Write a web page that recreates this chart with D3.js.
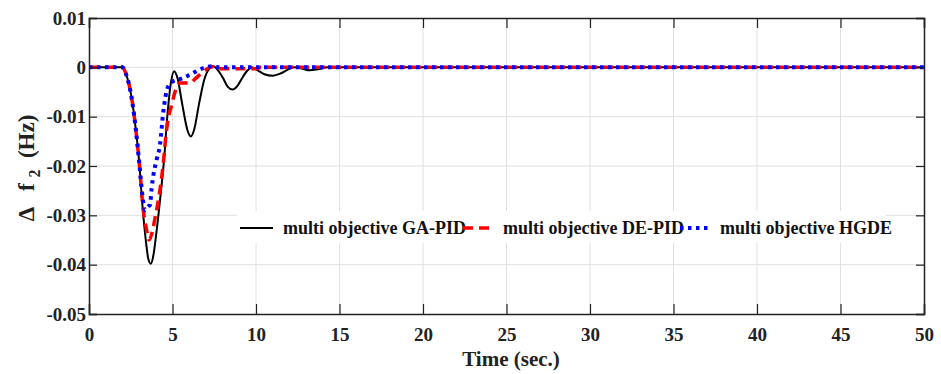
<!DOCTYPE html>
<html>
<head>
<meta charset="utf-8">
<script src="https://cdn.jsdelivr.net/npm/d3@7"></script>
<style>
  body { margin: 0; background: #fff; }
  svg { display: block; }
</style>
</head>
<body>
<svg id="chart" width="941" height="374"></svg>
<script>
// ---------- data ----------
const seriesNames = ["multi objective GA-PID", "multi objective DE-PID", "multi objective HGDE"];

const gaTime  = [0, 1, 2.0, 2.2, 2.4, 2.6, 2.8, 3.0, 3.2, 3.4, 3.55, 3.7, 3.85, 4.0, 4.25, 4.5, 4.7, 4.9, 5.1, 5.3, 5.6, 5.9, 6.1, 6.3, 6.6, 6.9, 7.2, 7.45, 7.7, 8.0, 8.3, 8.6, 8.9, 9.2, 9.5, 9.75, 10.1, 10.5, 11.0, 11.5, 12.0, 12.3, 12.8, 13.2, 13.7, 14.3, 15, 20, 30, 40, 50];
const gaValues = [0, 0, 0, -0.0012, -0.0035, -0.0072, -0.0125, -0.019, -0.028, -0.035, -0.0388, -0.0398, -0.0382, -0.0345, -0.027, -0.0185, -0.0095, -0.0032, -0.0008, -0.0022, -0.0078, -0.0128, -0.014, -0.0126, -0.0072, -0.0025, -0.0003, 0.0002, -0.0005, -0.002, -0.0039, -0.0045, -0.0037, -0.002, -0.0006, 0, -0.0006, -0.0014, -0.0017, -0.0012, -0.0003, 0, -0.0003, -0.0006, -0.0004, 0, 0, 0, 0, 0, 0];

const deTime  = [0, 1, 2.0, 2.2, 2.4, 2.6, 2.8, 3.0, 3.25, 3.45, 3.6, 3.8, 3.95, 4.15, 4.45, 4.6, 4.8, 4.95, 5.2, 5.45, 6.05, 6.4, 6.8, 7.4, 7.6, 10.0, 10.3, 20, 30, 40, 50];
const deValues = [0, 0, 0, -0.0012, -0.0035, -0.0072, -0.0125, -0.019, -0.0289, -0.033, -0.035, -0.0332, -0.0306, -0.027, -0.0194, -0.014, -0.0095, -0.0076, -0.0045, -0.0032, -0.0032, -0.0022, -0.001, 0.0001, -0.0003, -0.0003, 0, 0, 0, 0, 0];

const hgTime  = [0, 1, 2.0, 2.2, 2.4, 2.6, 2.8, 3.0, 3.2, 3.35, 3.55, 3.65, 3.75, 3.85, 4.05, 4.25, 4.45, 4.7, 5.0, 5.6, 6.2, 6.8, 7.4, 7.8, 20, 30, 40, 50];
const hgValues = [0, 0, 0, -0.0012, -0.0035, -0.0072, -0.0125, -0.019, -0.026, -0.029, -0.0282, -0.0279, -0.0245, -0.022, -0.0187, -0.0157, -0.009, -0.0042, -0.0029, -0.0022, -0.0012, -0.0002, 0.0002, 0, 0, 0, 0, 0];

const xTicks = [0, 5, 10, 15, 20, 25, 30, 35, 40, 45, 50];
const yTicks = [0.01, 0, -0.01, -0.02, -0.03, -0.04, -0.05];
const yTickLabels = ["0.01", "0", "-0.01", "-0.02", "-0.03", "-0.04", "-0.05"];

// ---------- layout ----------
const FONT = "Liberation Serif";
const svg = d3.select("#chart");
const L = 89, R = 924, T = 18, B = 314;
const x = d3.scaleLinear().domain([0, 50]).range([L, R]);
const y = d3.scaleLinear().domain([-0.05, 0.01]).range([B, T]);

// grid
const g = svg.append("g");
g.selectAll(".vg").data(xTicks.slice(1, -1)).join("line")
  .attr("x1", d => x(d)).attr("x2", d => x(d)).attr("y1", T).attr("y2", B)
  .attr("stroke", "#e0e0e0").attr("stroke-width", 1);
g.selectAll(".hg").data(yTicks.slice(1, -1)).join("line")
  .attr("x1", L).attr("x2", R).attr("y1", d => y(d)).attr("y2", d => y(d))
  .attr("stroke", "#e0e0e0").attr("stroke-width", 1);

// lines
const line = d3.line().x(d => x(d[0])).y(d => y(d[1])).curve(d3.curveMonotoneX);
const ga = gaTime.map((t, i) => [t, gaValues[i]]);
const de = deTime.map((t, i) => [t, deValues[i]]);
const hg = hgTime.map((t, i) => [t, hgValues[i]]);

svg.append("clipPath").attr("id", "clip").append("rect")
  .attr("x", L).attr("y", T).attr("width", R - L).attr("height", B - T);
const lines = svg.append("g").attr("clip-path", "url(#clip)");
lines.append("path").datum(ga).attr("d", line).attr("fill", "none")
  .attr("stroke", "#000").attr("stroke-width", 2);
lines.append("path").datum(de).attr("d", line).attr("fill", "none")
  .attr("stroke", "#ff0000").attr("stroke-width", 3.5).attr("stroke-dasharray", "10,6");
lines.append("path").datum(hg).attr("d", line).attr("fill", "none")
  .attr("stroke", "#0000ff").attr("stroke-width", 4).attr("stroke-dasharray", "3.5,4.5");

// axes
const axB = d3.axisBottom(x).tickValues(xTicks).tickSize(-10).tickPadding(14).tickFormat(d3.format("d"));
const axT = d3.axisTop(x).tickValues(xTicks).tickSize(-10).tickFormat("");
const axL = d3.axisLeft(y).tickValues(yTicks).tickSize(-8).tickPadding(3).tickFormat((d, i) => yTickLabels[i]);
const axR = d3.axisRight(y).tickValues(yTicks).tickSize(-8).tickFormat("");

function style(sel) {
  sel.attr("font-family", FONT);
  sel.select(".domain").attr("stroke", "#222").attr("stroke-width", 1.5);
  sel.selectAll(".tick line").attr("stroke", "#222").attr("stroke-width", 1.2);
  sel.selectAll(".tick text").style("font-size", "19px").style("font-family", FONT)
    .style("font-weight", "bold").attr("fill", "#222");
}
svg.append("g").attr("transform", `translate(0,${B})`).call(axB).call(style);
svg.append("g").attr("transform", `translate(0,${T})`).call(axT).call(style);
svg.append("g").attr("transform", `translate(${L},0)`).call(axL).call(style);
svg.append("g").attr("transform", `translate(${R},0)`).call(axR).call(style);

// axis labels
svg.append("text").attr("x", 511).attr("y", 366).attr("text-anchor", "middle")
  .style("font-family", FONT).style("font-weight", "bold").style("font-size", "21px").attr("fill", "#222")
  .text("Time (sec.)");
const yl = svg.append("text").attr("transform", `translate(34,${168}) rotate(-90)`)
  .attr("text-anchor", "middle").style("font-family", FONT).style("font-weight", "bold")
  .style("font-size", "23px").attr("fill", "#222").attr("xml:space", "preserve");
yl.append("tspan").text("Δ   f ");
yl.append("tspan").attr("dy", 6).style("font-size", "16px").text("2");
yl.append("tspan").attr("dy", -6).text("  (Hz)");

// legend
const leg = svg.append("g");
leg.append("rect").attr("x", 237).attr("y", 211).attr("width", 649).attr("height", 32).attr("fill", "#fff");
const legItems = [
  { x0: 240, x1: 273, tx: 283, color: "#000", w: 2, dash: null },
  { x0: 463, x1: 495, tx: 503, color: "#ff0000", w: 3.5, dash: "10,6" },
  { x0: 680, x1: 712, tx: 720, color: "#0000ff", w: 4, dash: "3.5,4.5" }
];
legItems.forEach((it, i) => {
  leg.append("line").attr("x1", it.x0).attr("x2", it.x1).attr("y1", 228).attr("y2", 228)
    .attr("stroke", it.color).attr("stroke-width", it.w).attr("stroke-dasharray", it.dash);
  leg.append("text").attr("x", it.tx).attr("y", 234)
    .style("font-family", FONT).style("font-weight", "bold").style("font-size", "18px").attr("fill", "#111")
    .text(seriesNames[i]);
});
</script>
</body>
</html>
